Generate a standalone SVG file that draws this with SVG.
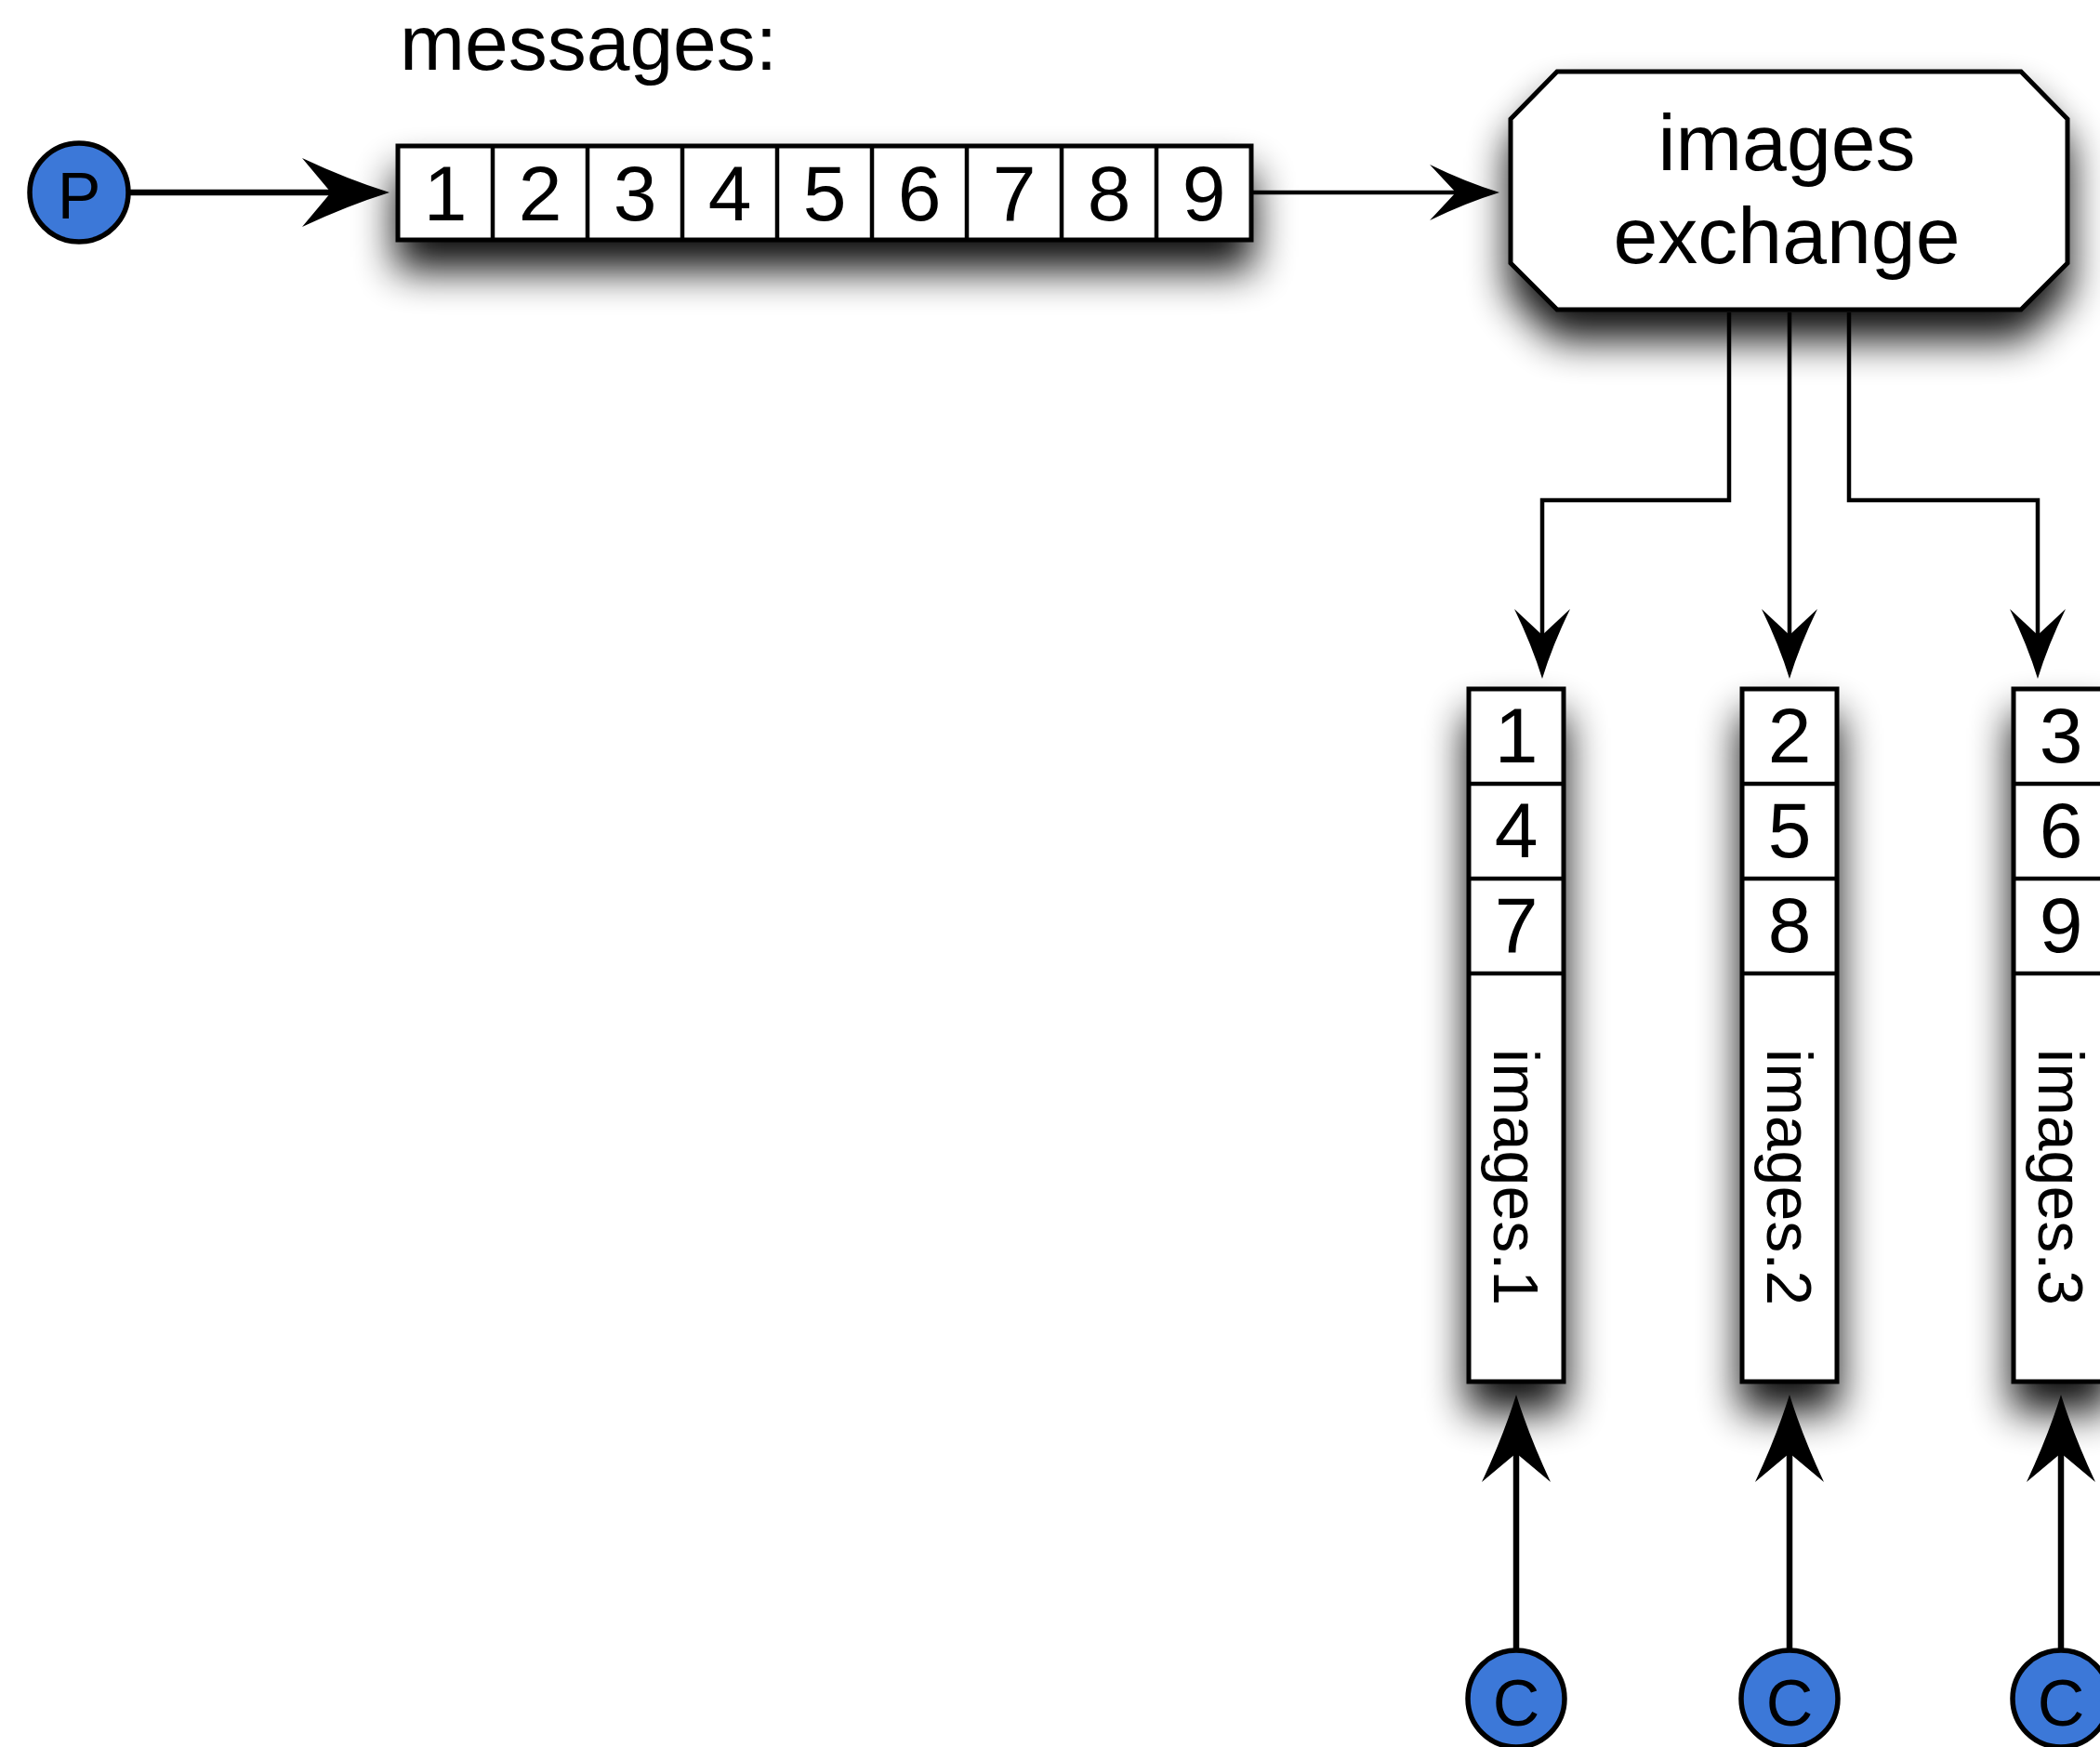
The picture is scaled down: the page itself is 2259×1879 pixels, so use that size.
<svg xmlns="http://www.w3.org/2000/svg" width="2259" height="1879" viewBox="0 0 2259 1879">
<style>
.box{fill:#fff;stroke:#000;stroke-width:5}
.cell{fill:none;stroke:#000;stroke-width:4.5}
.txt{font-family:"Liberation Sans",Arial,sans-serif;fill:#000}
.num{font-size:84px;text-anchor:middle}
.lbl{font-size:68px;text-anchor:middle}
.ex{font-size:86px;text-anchor:middle}
.pc{fill:#3C78D8;stroke:#000;stroke-width:5.5}
.pct{font-family:"Liberation Sans",Arial,sans-serif;font-size:70px;text-anchor:middle;fill:#000}
.thick{fill:none;stroke:#000;stroke-width:6.5;marker-end:url(#bigArrow)}
.thin{fill:none;stroke:#000;stroke-width:4.5;marker-end:url(#smallArrow)}
</style>
<defs>
<filter id="shadow" x="-50%" y="-50%" width="200%" height="240%">
<feGaussianBlur in="SourceAlpha" stdDeviation="22"/>
<feOffset dx="0" dy="30" result="b"/>
<feComponentTransfer in="b" result="s"><feFuncA type="linear" slope="0.95"/></feComponentTransfer>
<feMerge><feMergeNode in="s"/><feMergeNode in="SourceGraphic"/></feMerge>
</filter>
<marker id="bigArrow" viewBox="-100 -45 110 90" refX="-63" refY="0" markerWidth="110" markerHeight="90" markerUnits="userSpaceOnUse" orient="auto" overflow="visible">
<path d="M0,0 Q-45,-14 -94,-37 L-63,0 L-94,37 Q-45,14 0,0 Z" fill="#000"/>
</marker>
<marker id="smallArrow" viewBox="-90 -40 100 80" refX="-47" refY="0" markerWidth="100" markerHeight="80" markerUnits="userSpaceOnUse" orient="auto" overflow="visible">
<path d="M0,0 Q-36,-11 -75,-30 L-47,0 L-75,30 Q-36,11 0,0 Z" fill="#000"/>
</marker>
</defs>
<rect width="2259" height="1879" fill="#fff"/>

<text class="txt" x="430" y="75" font-size="84">messages:</text>

<g id="connectors">
<path class="thick" d="M138,207 H356"/>
<path class="thin" d="M1347,207 H1566"/>
<path class="thin" d="M1860,336 V538 H1659 V683"/>
<path class="thin" d="M1925,336 V683"/>
<path class="thin" d="M1989,336 V538 H2192 V683"/>
<path class="thick" d="M1631,1775 V1563"/>
<path class="thick" d="M1925,1775 V1563"/>
<path class="thick" d="M2217,1775 V1563"/>
</g>

<g id="producer">
<circle class="pc" cx="85" cy="207" r="53"/>
<text class="pct" x="85" y="235">P</text>
</g>

<g id="messages-queue" filter="url(#shadow)">
<rect class="box" x="428" y="157" width="918" height="101"/>
<path class="cell" d="M530,157 V258 M632,157 V258 M734,157 V258 M836,157 V258 M938,157 V258 M1040,157 V258 M1142,157 V258 M1244,157 V258"/>
<g class="txt num">
<text x="479" y="237">1</text>
<text x="581" y="237">2</text>
<text x="683" y="237">3</text>
<text x="785" y="237">4</text>
<text x="887" y="237">5</text>
<text x="989" y="237">6</text>
<text x="1091" y="237">7</text>
<text x="1193" y="237">8</text>
<text x="1295" y="237">9</text>
</g>
</g>

<g id="images-exchange" filter="url(#shadow)">
<polygon class="box" points="1675,77 2174,77 2224,128 2224,283 2174,333 1675,333 1625,283 1625,128"/>
<text class="txt ex" x="1922" y="183">images</text>
<text class="txt ex" x="1922" y="283">exchange</text>
</g>

<g id="queue-images1" filter="url(#shadow)">
<rect class="box" x="1580" y="741" width="102" height="745"/>
<path class="cell" d="M1580,843 H1682 M1580,945 H1682 M1580,1047 H1682"/>
<text class="txt num" x="1631" y="820">1</text>
<text class="txt num" x="1631" y="922">4</text>
<text class="txt num" x="1631" y="1024">7</text>
<text class="txt lbl" transform="translate(1607,1266) rotate(90)">images.1</text>
</g>

<g id="queue-images2" filter="url(#shadow)">
<rect class="box" x="1874" y="741" width="102" height="745"/>
<path class="cell" d="M1874,843 H1976 M1874,945 H1976 M1874,1047 H1976"/>
<text class="txt num" x="1925" y="820">2</text>
<text class="txt num" x="1925" y="922">5</text>
<text class="txt num" x="1925" y="1024">8</text>
<text class="txt lbl" transform="translate(1901,1266) rotate(90)">images.2</text>
</g>

<g id="queue-images3" filter="url(#shadow)">
<rect class="box" x="2166" y="741" width="102" height="745"/>
<path class="cell" d="M2166,843 H2268 M2166,945 H2268 M2166,1047 H2268"/>
<text class="txt num" x="2217" y="820">3</text>
<text class="txt num" x="2217" y="922">6</text>
<text class="txt num" x="2217" y="1024">9</text>
<text class="txt lbl" transform="translate(2193,1266) rotate(90)">images.3</text>
</g>

<g id="consumer1">
<circle class="pc" cx="1631" cy="1827" r="52"/>
<text class="pct" x="1631" y="1856">C</text>
</g>
<g id="consumer2">
<circle class="pc" cx="1925" cy="1827" r="52"/>
<text class="pct" x="1925" y="1856">C</text>
</g>
<g id="consumer3">
<circle class="pc" cx="2217" cy="1827" r="52"/>
<text class="pct" x="2217" y="1856">C</text>
</g>
</svg>
